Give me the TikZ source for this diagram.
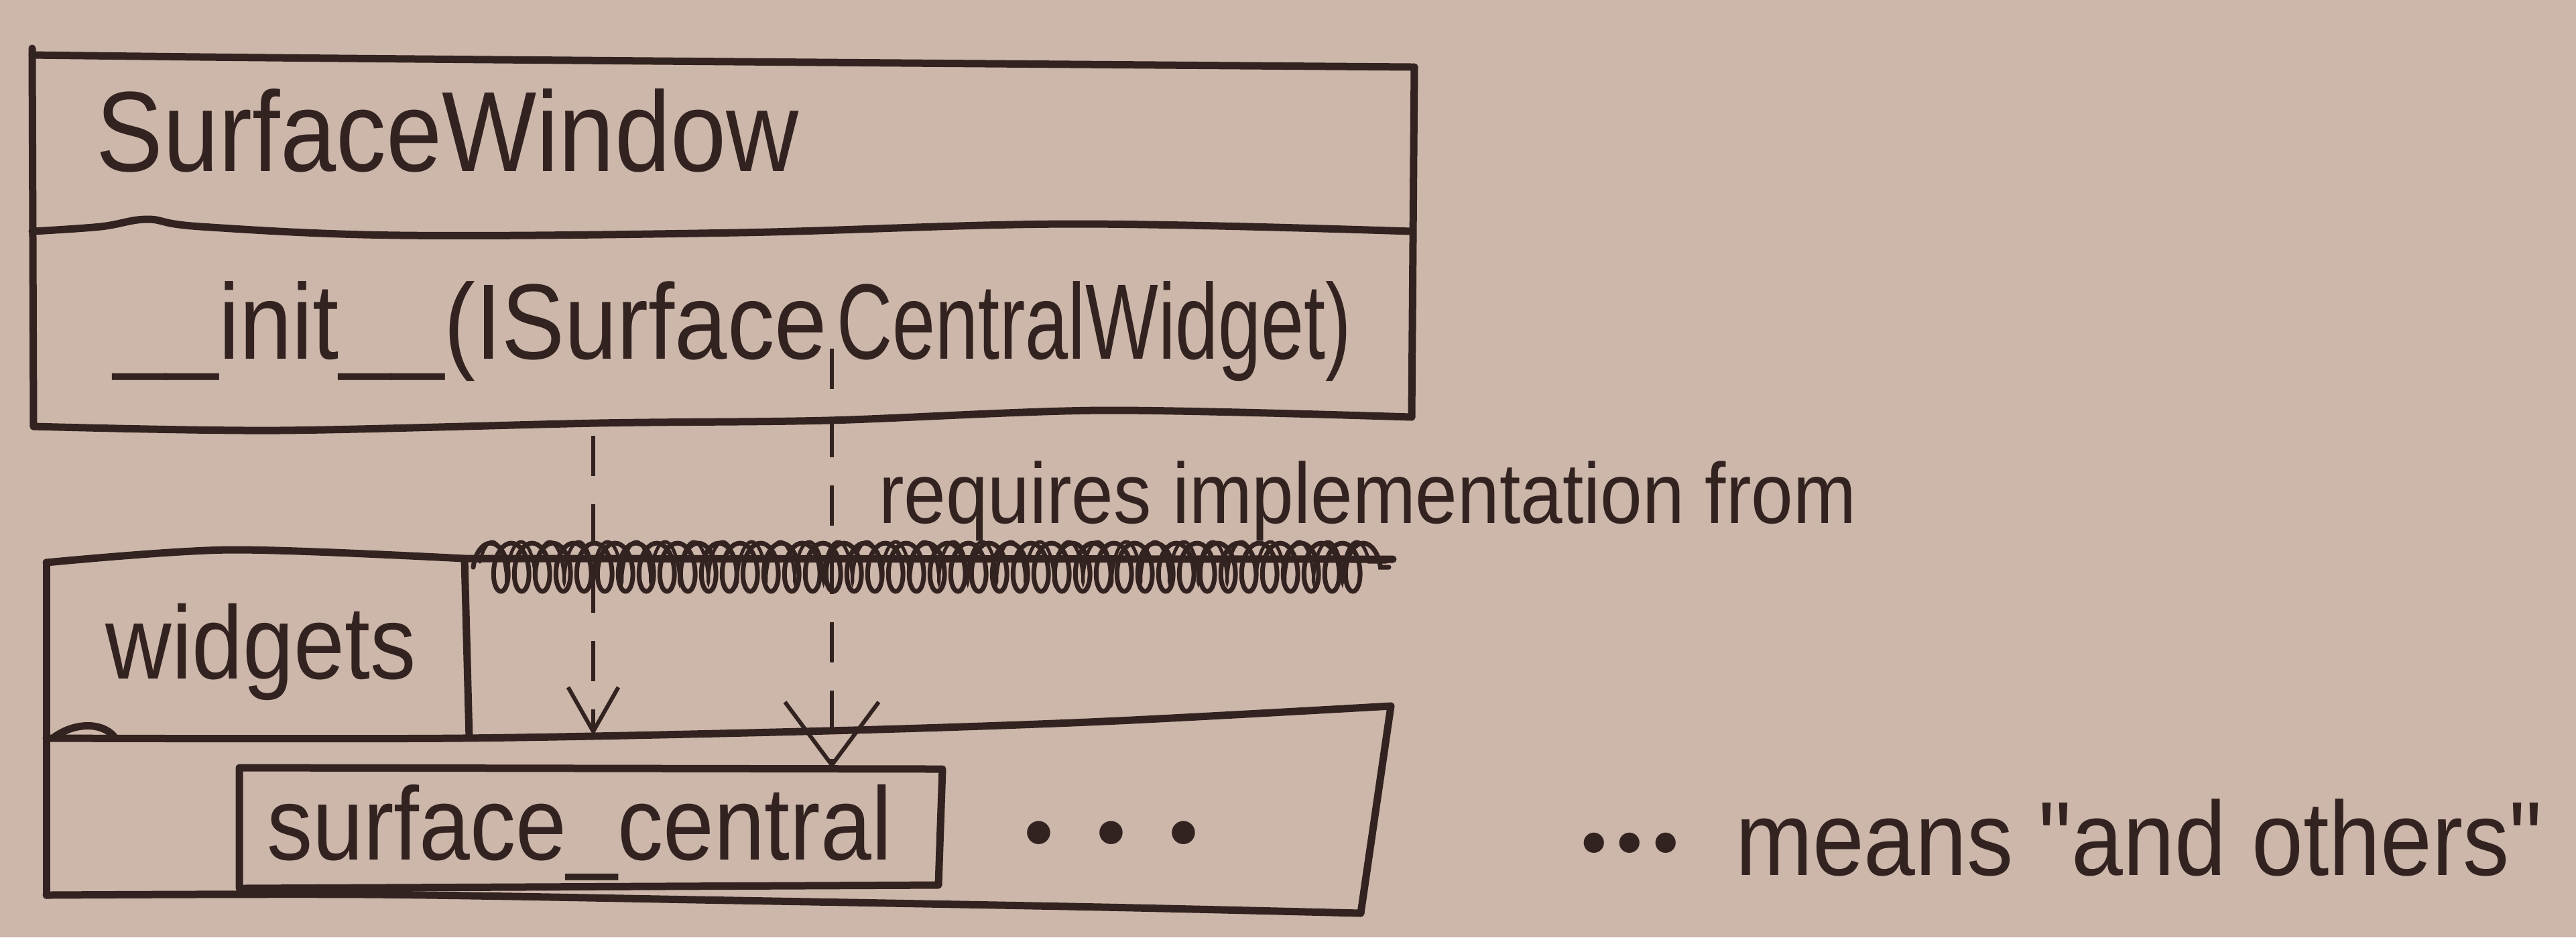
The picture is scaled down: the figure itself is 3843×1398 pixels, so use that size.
\documentclass[tikz,border=0pt]{standalone}
\usepackage{fontspec}
\usetikzlibrary{arrows.meta,decorations.pathmorphing}

% narrow, hand-lettered look
\newfontfamily\hand[FakeStretch=0.88]{Liberation Sans}
\newfontfamily\handc[FakeStretch=0.72]{Liberation Sans}

\definecolor{paper}{RGB}{205,182,170}
\definecolor{ink}{RGB}{50,34,32}

\tikzset{
  ink/.style={draw=ink, line width=1.1pt, line cap=round, line join=round},
  txt/.style={inner sep=0pt, outer sep=0pt, text=ink, anchor=base west},
  impl/.style={draw=ink, line width=0.55pt, dash pattern=on 6pt off 4.2pt,
    -{Straight Barb[length=6.6pt, width=7.5pt, line width=0.6pt]}},
  implwide/.style={impl,
    -{Straight Barb[length=9.4pt, width=14pt, line width=0.6pt]}},
  scribble/.style={draw=ink, line width=0.7pt, line cap=round, decorate,
    decoration={coil, segment length=3.1pt, amplitude=3.6pt, aspect=0.5}},
  scribbleb/.style={draw=ink, line width=0.5pt, line cap=round, decorate,
    decoration={coil, segment length=4.3pt, amplitude=3pt, aspect=0.25}},
  dotmark/.style={txt, font={\normalfont\bfseries\fontsize{24pt}{24pt}\selectfont}},
}

\begin{document}
\begin{tikzpicture}[x=0.1pt, y=-0.1pt]
\path[use as bounding box, fill=paper] (0,0) rectangle (3843,1398);

% ---------------- SurfaceWindow class box ----------------
\coordinate (swTL) at (48,82);
\coordinate (swTR) at (2110,100);
\coordinate (swBL) at (50,636);
\coordinate (swBR) at (2106,622);
\draw[ink] (48,72) -- (swBL);
\draw[ink] (swTR) -- (swBR);
\draw[ink] plot[smooth] coordinates {(swTL) (400,86) (1100,92) (swTR)};
\draw[ink] plot[smooth, tension=0.6] coordinates
  {(48,345) (150,338) (220,327) (300,338) (600,351) (1100,347) (1600,334) (2106,345)};
\draw[ink] plot[smooth] coordinates
  {(swBL) (411,642) (891,631) (1235,627) (1646,612) (swBR)};

\node[txt, font={\hand\fontsize{17pt}{17pt}\selectfont}] (swname) at (144,255) {SurfaceWindow};
\node[txt, anchor=base east, font={\hand\fontsize{16pt}{16pt}\selectfont}] (sigA) at (1234,535) {\_\_init\_\_(ISurface};
\node[txt, font={\handc\fontsize{16pt}{16pt}\selectfont}] (sigB) at (1248,535) {CentralWidget)};

% ---------------- widgets package ----------------
\coordinate (wTL) at (69,839);
\coordinate (wTab) at (693,833);
\coordinate (scribEnd) at (2078,834);
\coordinate (cTL) at (69,1101);
\coordinate (cTR) at (2075,1053);
\coordinate (cBR) at (2030,1362);
\coordinate (cBL) at (69,1335);

\draw[ink] plot[smooth] coordinates {(wTL) (343,820) (wTab)} -- (scribEnd);
% crossed-out stretch of the package outline
\draw[scribble] (706,846) -- (2072,846);
\draw[scribbleb] (716,838) -- (2068,838);
\draw[ink] (wTL) -- (cBL);
\draw[ink] (wTab) -- (700,1101);
\draw[ink] plot[smooth] coordinates {(cTL) (686,1101) (1235,1090) (1646,1076) (cTR)};
\draw[ink] (80,1100) .. controls (110,1078) and (150,1076) .. (170,1098);
\draw[ink] (cTR) -- (cBR);
\draw[ink] plot[smooth] coordinates {(cBL) (549,1334) (1097,1343) (1646,1353) (cBR)};

\node[txt, font={\hand\fontsize{15.5pt}{15.5pt}\selectfont}] (widgets) at (158,1012) {widgets};

% surface_central module
\coordinate (scTL) at (357,1145);
\coordinate (scTR) at (1406,1147);
\coordinate (scBR) at (1400,1320);
\coordinate (scBL) at (357,1325);
\draw[ink] (scTL) -- (scTR) -- (scBR) -- (scBL) -- cycle;
\node[txt, font={\hand\fontsize{15.5pt}{15.5pt}\selectfont}] (sc) at (398,1282) {surface\_central};

\node[dotmark] (more) at (1512,1259) {.\kern3.3pt.\kern3.3pt.};

% ---------------- dependencies ----------------
\coordinate (p1) at (885,650);
\coordinate (t1) at (885,1097);
\coordinate (p2) at (1241,520);
\coordinate (t2) at (1241,1146);
\draw[impl] (p1) -- (t1);
\draw[implwide] (p2) -- (t2);

\node[txt, font={\hand\fontsize{12.8pt}{12.8pt}\selectfont}] (req) at (1311,780) {requires implementation from};

% ---------------- legend ----------------
\node[dotmark, font={\normalfont\bfseries\fontsize{21pt}{21pt}\selectfont}] (ldots) at (2345,1272) {.\kern-1.2pt.\kern-1.2pt.};
\node[txt, font={\hand\fontsize{15.7pt}{15.7pt}\selectfont}] (legend) at (2589,1305) {means "and others"};
\end{tikzpicture}
\end{document}
